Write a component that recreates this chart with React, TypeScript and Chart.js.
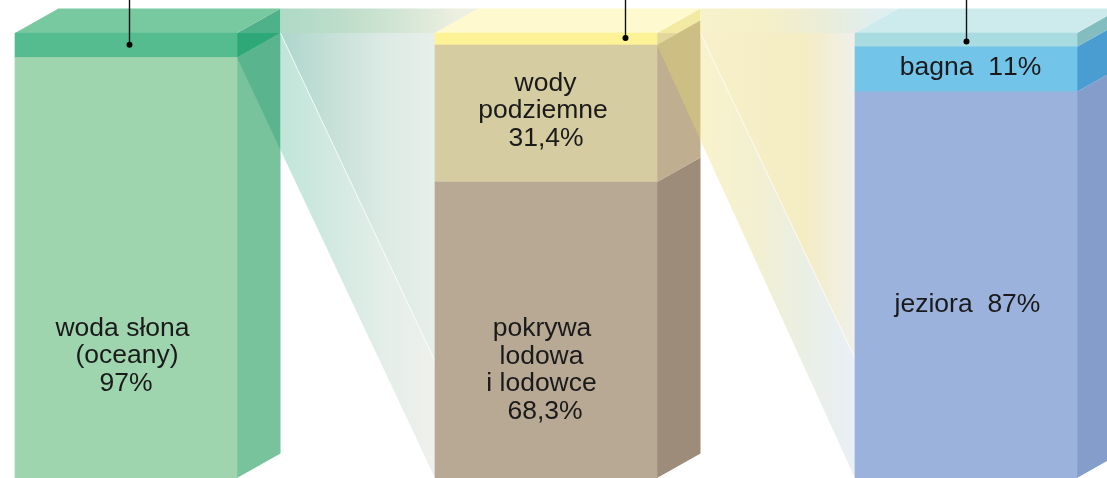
import React, { useEffect, useRef } from "react";
import { Chart, registerables } from "chart.js";

Chart.register(...registerables);

const categories = ["woda", "woda słodka", "wody powierzchniowe"];
// heights, in % of the drawn column height
const lowerValues = [94.5, 66.5, 86.8];
const middleValues = [0, 30.8, 10.1];
const upperValues = [5.5, 2.7, 3.1];

const lowerColors = ["#9FD5AE", "#B8A994", "#9BB2DC"];
const middleColors = ["#9FD5AE", "#D6CCA1", "#72C4E8"];
const upperColors = ["#54BC8E", "#FDF295", "#A9DCE0"];

const topFaceColors = ["#78C8A0", "#FEF9CE", "#CDEBEC"];
const lowerSideColors = ["#78C39B", "#9E8C7A", "#849DCB"];
const middleSideColors = ["#78C39B", "#BFAE8F", "#4A9DD0"];
const upperSideColors = ["#4FB18A", "#F2E9A2", "#84BDC0"];
const upperInnerColors = ["#2FA878", "#E3D89B", "#84BDC0"];
const wedgeColors = ["#5AB58F", "#CDBE84"];

const fanStripColors = [
  ["#AEDAC6", "#BCDDC9", "#D2E5D4", "#EDEFE0"],
  ["#F8F2CC", "#F6F0C8", "#EBEDD6", "#E0EEF0"],
];
const fanBackColors = [
  ["#ADD6CC", "#C6E0D8", "#DCEAE4", "#E8EFEB"],
  ["#F7F0CA", "#F6EEC6", "#F4ECC3", "#F0F0EA"],
];
const fanFrontColors = [
  ["#C0E5D9", "#D2E9E1", "#E4EEE9", "#EFF0EC"],
  ["#F9F3CC", "#F3F0D0", "#EAEFE4", "#E9EFF6"],
];

const segmentLabels = [
  { bar: 0, set: 0, offset: 88.5, lines: ["woda słona", "(oceany)", "97%"], shifts: [-3, 1.5, 0.5] },
  { bar: 1, set: 1, offset: -2, lines: ["wody", "podziemne", "31,4%"], shifts: [0, -2.5, 0.5] },
  { bar: 1, set: 0, offset: 40.5, lines: ["pokrywa", "lodowa", "i lodowce", "68,3%"], shifts: [-3.5, -4, -4, -0.5] },
  { bar: 2, set: 1, offset: -1, lines: ["bagna  11%"], shifts: [5] },
  { bar: 2, set: 0, offset: 20.5, lines: ["jeziora  87%"], shifts: [2] },
];

const DX = 43.5;
const DY = -24.5;
const leaderOffsets = [3.5, 79.5, 0.5];
const leaderDotOffsets = [-0.5, -1, 1.5];

function poly(ctx: any, pts: number[][], fill: any) {
  ctx.beginPath();
  pts.forEach((p, i) => (i ? ctx.lineTo(p[0], p[1]) : ctx.moveTo(p[0], p[1])));
  ctx.closePath();
  ctx.fillStyle = fill;
  ctx.fill();
}

function hGrad(ctx: any, x0: number, x1: number, c: string[]) {
  const g = ctx.createLinearGradient(x0, 0, x1, 0);
  c.forEach((col, i) => g.addColorStop(i / (c.length - 1), col));
  return g;
}

const segment = (chart: any, set: number, bar: number) => {
  const el = chart.getDatasetMeta(set).data[bar];
  return { l: el.x - el.width / 2, r: el.x + el.width / 2, t: el.y, b: el.base, c: el.x };
};

const columnPlugin = {
  id: "column3d",
  beforeDatasetsDraw(chart: any) {
    const ctx = chart.ctx;
    ctx.save();
    for (let i = 0; i < categories.length; i++) {
      const lo = segment(chart, 0, i);
      const mid = segment(chart, 1, i);
      const up = segment(chart, 2, i);
      const r = lo.r;
      const side = (s: any, color: string) =>
        poly(ctx, [[r, s.t], [r + DX, s.t + DY], [r + DX, s.b + DY], [r, s.b]], color);
      side(lo, lowerSideColors[i]);
      if (mid.b - mid.t > 0.5) side(mid, middleSideColors[i]);
      side(up, upperSideColors[i]);

      if (i < categories.length - 1) {
        const next = segment(chart, 0, i + 1);
        const x0 = r + DX;
        const x1 = next.l;
        const xb = x1 + DX;
        const top = up.t;
        const bandB = up.b;
        const slope = (lo.b - bandB) / (x1 - r);
        const frontAt0 = bandB + slope * DX;
        const backBand = bandB + DY;
        const backAt1 = backBand + slope * (x1 - x0);
        // darker inner parts of the side face
        poly(ctx, [[r, top], [x0, top], [x0, backBand], [r, bandB]], upperInnerColors[i]);
        poly(ctx, [[r, bandB], [x0, backBand], [x0, frontAt0]], wedgeColors[i]);
        // funnel to the next column
        poly(ctx, [[x0, top + DY], [xb, top + DY], [x1, top], [x0, top]], hGrad(ctx, x0, x1 + DX / 2, fanStripColors[i]));
        poly(ctx, [[x0, backBand], [x1, backAt1], [x1, lo.b], [x0, frontAt0]], hGrad(ctx, x0, x1, fanFrontColors[i]));
        poly(ctx, [[x0, top], [x1, top], [x1, backAt1], [x0, backBand < top ? top : backBand]], hGrad(ctx, x0, x1, fanBackColors[i]));
        ctx.beginPath();
        ctx.moveTo(x0, top);
        ctx.lineTo(x1, backAt1);
        ctx.strokeStyle = "rgba(255,255,255,0.75)";
        ctx.lineWidth = 1;
        ctx.stroke();
      }
      poly(ctx, [[lo.l, up.t], [lo.l + DX, up.t + DY], [r + DX, up.t + DY], [r, up.t]], topFaceColors[i]);
    }
    ctx.restore();
  },
  afterDatasetsDraw(chart: any) {
    const ctx = chart.ctx;
    ctx.save();
    // leader lines
    for (let i = 0; i < categories.length; i++) {
      const up = segment(chart, 2, i);
      const x = up.c + leaderOffsets[i];
      const y = (up.t + up.b) / 2 + leaderDotOffsets[i];
      ctx.beginPath();
      ctx.moveTo(x, 0);
      ctx.lineTo(x, y);
      ctx.strokeStyle = "#111";
      ctx.lineWidth = 1.4;
      ctx.stroke();
      ctx.beginPath();
      ctx.arc(x, y, 3, 0, Math.PI * 2);
      ctx.fillStyle = "#000";
      ctx.fill();
    }
    // labels
    ctx.textAlign = "center";
    ctx.textBaseline = "middle";
    ctx.fillStyle = "#1a1a1a";
    ctx.font = '25px "Liberation Sans"';
    ctx.fontKerning = "none";
    const LINE = 27.6;
    for (const lab of segmentLabels) {
      const s = segment(chart, lab.set, lab.bar);
      const cy = (s.t + s.b) / 2 + lab.offset;
      lab.lines.forEach((t, n) => {
        const y = cy + (n - (lab.lines.length - 1) / 2) * LINE;
        ctx.save();
        ctx.translate(s.c - 0.5 + lab.shifts[n], y);
        ctx.scale(1.06, 1);
        ctx.fillText(t, 0, 0);
        ctx.restore();
      });
    }
    ctx.restore();
  },
};

export default function App() {
  const ref = useRef<HTMLCanvasElement>(null);
  useEffect(() => {
    document.body.style.margin = "0";
    const toPoints = (values: number[]) => values.map((y, x) => ({ x, y }));
    const chart = new Chart(ref.current as HTMLCanvasElement, {
      type: "bar",
      data: {
        labels: categories,
        datasets: [
          { data: toPoints(lowerValues), backgroundColor: lowerColors, stack: "w" },
          { data: toPoints(middleValues), backgroundColor: middleColors, stack: "w" },
          { data: toPoints(upperValues), backgroundColor: upperColors, stack: "w" },
        ],
      } as any,
      options: {
        animation: false,
        responsive: false,
        layout: { padding: 0 },
        datasets: { bar: { barThickness: 222, borderWidth: 0 } },
        plugins: { legend: { display: false }, tooltip: { enabled: false }, title: { display: false } },
        scales: {
          x: { type: "linear", offset: false, display: false, min: -0.3, max: 2.3357 },
          y: { display: false, stacked: true, min: 0, max: 107.42 },
        },
      } as any,
      plugins: [columnPlugin],
    });
    return () => chart.destroy();
  }, []);
  return <canvas ref={ref} width={1107} height={478} style={{ display: "block" }} />;
}
